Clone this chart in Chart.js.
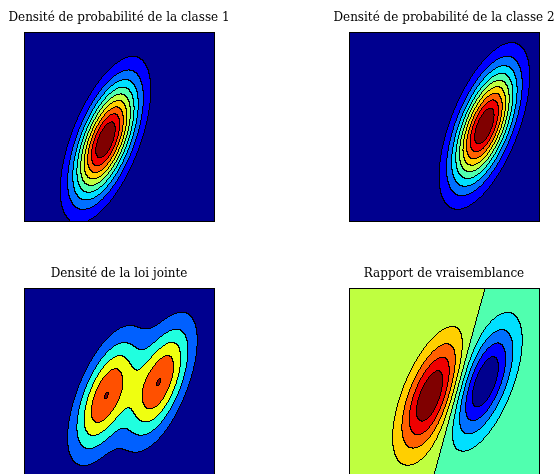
<!DOCTYPE html>
<html>
<head>
<meta charset="utf-8">
<script src="https://cdn.jsdelivr.net/npm/chart.js@4.4.1/dist/chart.umd.min.js"></script>
<style>
  html, body { margin: 0; padding: 0; background: #fff; width: 555px; height: 474px; overflow: hidden; }
  canvas { position: absolute; }
</style>
</head>
<body>
<canvas id="c-class1" width="236" height="224" style="left:1px;top:0px"></canvas>
<canvas id="c-class2" width="236" height="224" style="left:326px;top:0px"></canvas>
<canvas id="c-joint" width="236" height="224" style="left:1px;top:256px"></canvas>
<canvas id="c-ratio" width="236" height="224" style="left:326px;top:256px"></canvas>
<script>
// plot domain (both axes)
const domain = [-3, 3];

// two gaussian classes, same covariance
const mean1 = [-0.43, -0.42];
const mean2 = [1.28, 0.02];
const sigma = [0.67, 1.24];
const rho = 0.6;

// contour levels (density normalised to a peak of 1)
const levelsClass = [0.1, 0.2, 0.3, 0.4, 0.5, 0.6, 0.7, 0.8, 0.9];
const levelsJoint = [0.1, 0.2, 0.3, 0.4, 0.505];
const levelsRatio = [-0.8, -0.6, -0.4, -0.2, 0, 0.2, 0.4, 0.6, 0.8];

const titles = [
  "Densité de probabilité de la classe 1",
  "Densité de probabilité de la classe 2",
  "Densité de la loi jointe",
  "Rapport de vraisemblance",
];

// matlab jet(64)
function jet(t) {
  const i = Math.round(t * 63) + 1;
  const n = 16;
  const u = (k) => (k <= n ? k / n : k <= 2 * n - 1 ? 1 : (3 * n - k) / n);
  const r = i >= 25 ? u(i - 24) : 0;
  const g = i >= 9 && i <= 55 ? u(i - 8) : 0;
  const b = i <= 39 ? u(i + 8) : 0;
  return [Math.round(r * 255), Math.round(g * 255), Math.round(b * 255)];
}

function bandColors(levels) {
  const n = levels.length;
  const out = [];
  for (let k = 0; k <= n; k++) out.push(jet(k / n));
  return out;
}

function gauss(m) {
  return (x, y) => {
    const dx = (x - m[0]) / sigma[0];
    const dy = (y - m[1]) / sigma[1];
    const q = (dx * dx - 2 * rho * dx * dy + dy * dy) / (1 - rho * rho);
    return Math.exp(-q / 2);
  };
}

const p1 = gauss(mean1);
const p2 = gauss(mean2);

const contourPlugin = {
  id: "contourFill",
  beforeDatasetsDraw(chart, args, opts) {
    const { ctx, chartArea: a, scales } = chart;
    const dpr = chart.currentDevicePixelRatio || 1;
    const w = Math.round(a.width * dpr);
    const h = Math.round(a.height * dpr);
    const levels = opts.levels;
    const colors = bandColors(levels);
    const band = new Int16Array(w * h);
    for (let j = 0; j < h; j++) {
      const y = scales.y.getValueForPixel(a.top + (j + 0.5) / dpr);
      for (let i = 0; i < w; i++) {
        const x = scales.x.getValueForPixel(a.left + (i + 0.5) / dpr);
        const v = opts.field(x, y);
        let k = 0;
        while (k < levels.length && v >= levels[k]) k++;
        band[j * w + i] = k;
      }
    }
    const img = ctx.createImageData(w, h);
    for (let j = 0; j < h; j++) {
      for (let i = 0; i < w; i++) {
        const idx = j * w + i;
        const k = band[idx];
        let c = colors[k];
        if ((i + 1 < w && band[idx + 1] !== k) || (j + 1 < h && band[idx + w] !== k)) c = [0, 0, 0];
        img.data[idx * 4] = c[0];
        img.data[idx * 4 + 1] = c[1];
        img.data[idx * 4 + 2] = c[2];
        img.data[idx * 4 + 3] = 255;
      }
    }
    ctx.putImageData(img, Math.round(a.left * dpr), Math.round(a.top * dpr));
    ctx.save();
    ctx.strokeStyle = "#000";
    ctx.lineWidth = 1;
    ctx.strokeRect(a.left - 0.5, a.top - 0.5, a.width + 1, a.height + 1);
    ctx.restore();
  },
};

// invisible side axes, only used to keep the plot box narrower than the title
function spacer(position, width) {
  return {
    position: position,
    display: true,
    grid: { display: false },
    border: { display: false },
    ticks: { display: false },
    afterFit: (s) => { s.width = width; },
  };
}

function makeChart(id, title, field, levels) {
  return new Chart(document.getElementById(id).getContext("2d"), {
    type: "scatter",
    data: {
      datasets: [
        {
          data: [
            { x: mean1[0], y: mean1[1] },
            { x: mean2[0], y: mean2[1] },
          ],
          pointRadius: 0,
        },
      ],
    },
    options: {
      responsive: false,
      animation: false,
      events: [],
      layout: { padding: { left: 0, right: 0, top: 0, bottom: 3 } },
      scales: {
        x: { display: false, min: domain[0], max: domain[1] },
        y: Object.assign(spacer("left", 24), { min: domain[0], max: domain[1] }),
        yPad: spacer("right", 23),
      },
      plugins: {
        legend: { display: false },
        tooltip: { enabled: false },
        title: {
          display: true,
          text: title,
          color: "#000",
          font: { family: "'DejaVu Serif', serif", size: 12, weight: "normal" },
          padding: { top: 11, bottom: 7.6 },
        },
        contourFill: { field: field, levels: levels },
      },
    },
    plugins: [contourPlugin],
  });
}

makeChart("c-class1", titles[0], p1, levelsClass);
makeChart("c-class2", titles[1], p2, levelsClass);
makeChart("c-joint", titles[2], (x, y) => 0.5 * (p1(x, y) + p2(x, y)), levelsJoint);
makeChart("c-ratio", titles[3], (x, y) => p1(x, y) - p2(x, y), levelsRatio);
</script>
</body>
</html>
